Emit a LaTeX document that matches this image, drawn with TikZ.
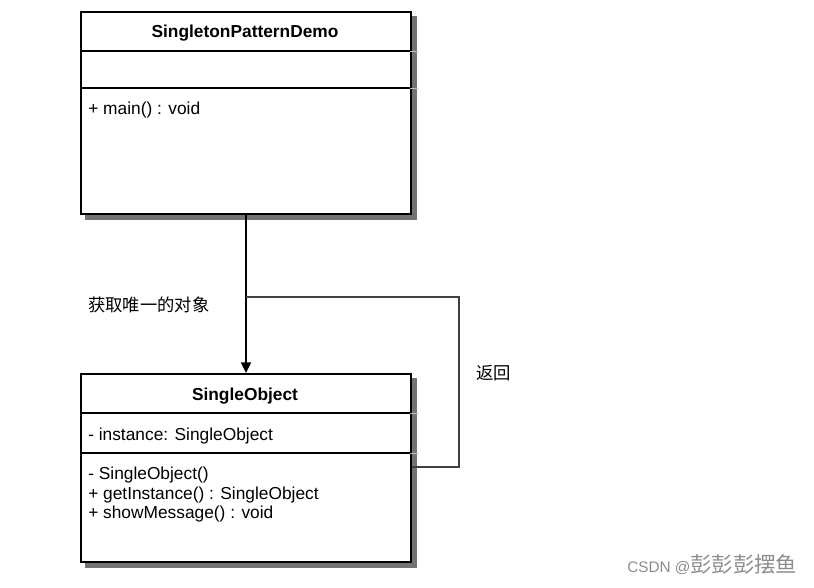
\documentclass[tikz,border=0pt]{standalone}
\usepackage{fontspec}
\setmainfont{Liberation Sans}
\newfontfamily\cjk{Noto Sans CJK SC}
\usetikzlibrary{arrows.meta}
\begin{document}
\begin{tikzpicture}[x=0.75pt,y=-0.75pt,
  umlbox/.style={draw=black, line width=1.5pt, fill=white, inner sep=0pt, anchor=north west},
  boxshadow/.style={fill=black!55, draw=none},
  divider/.style={draw=black, line width=1.5pt},
  stub/.style={draw=black!25, line width=0.6pt},
  txt/.style={anchor=base west, inner sep=0pt, font=\fontsize{13}{15}\selectfont},
  title/.style={anchor=base, inner sep=0pt, font=\fontsize{13}{15}\selectfont\bfseries},
  cjklabel/.style={anchor=base west, inner sep=0pt, font=\fontsize{13}{15}\selectfont\cjk},
  conn/.style={draw=black, line width=1.1pt},
  retline/.style={draw=black!75, line width=0.8pt}
]
\useasboundingbox (0,0) rectangle (814,587);

% top class
\node[umlbox, minimum width=247.5pt, minimum height=151.5pt] (demo) at (80,11) {};
\fill[boxshadow] ([shift={(0,5)}]demo.north east) rectangle ([shift={(5,0)}]demo.south east);
\fill[boxshadow] ([shift={(5,0)}]demo.south west) rectangle ([shift={(5,5)}]demo.south east);
\node[umlbox, minimum width=247.5pt, minimum height=151.5pt] (demo) at (80,11) {};
\draw[stub] (410,51) -- (418,51);
\draw[stub] (410,88) -- (418,88);
\draw[divider] (80,51) -- (410,51);
\draw[divider] (80,88) -- (410,88);
\node[title] (demotitle) at (245,37) {SingletonPatternDemo};
\node[txt] (demomain) at (88,114) {+ main() : void};

% bottom class
\node[umlbox, minimum width=247.5pt, minimum height=141pt] (single) at (80,373) {};
\fill[boxshadow] ([shift={(0,5)}]single.north east) rectangle ([shift={(5,0)}]single.south east);
\fill[boxshadow] ([shift={(5,0)}]single.south west) rectangle ([shift={(5,5)}]single.south east);
\node[umlbox, minimum width=247.5pt, minimum height=141pt] (single) at (80,373) {};
\draw[stub] (410,413) -- (418,413);
\draw[stub] (410,453) -- (418,453);
\draw[divider] (80,413) -- (410,413);
\draw[divider] (80,453) -- (410,453);
\node[title] (singletitle) at (245,400) {SingleObject};
\node[txt] (attr) at (88,440) {- instance: SingleObject};
\node[txt] (m1) at (88,479) {- SingleObject()};
\node[txt] (m2) at (88,499) {+ getInstance() : SingleObject};
\node[txt] (m3) at (88,518) {+ showMessage() : void};

% connectors
\draw[conn, -{Triangle[length=8pt,width=7.5pt]}] (demo.south) -- (single.north);
\coordinate (c1) at (459,467);
\coordinate (c2) at (459,297);
\coordinate (j) at (demo.south |- c2);
\draw[retline] (single.east |- c1) -- (c1) -- (c2) -- (j);

\node[cjklabel] (getlabel) at (88,311) {获取唯一的对象};
\node[cjklabel] (retlabel) at (476,379) {返回};

% watermark
\node[anchor=base west, inner sep=0pt, text=black!45] (wm) at (627,572)
  {{\fontsize{11.5}{13}\selectfont CSDN @}{\cjk\fontsize{16}{18}\selectfont 彭彭彭摆鱼}};
\end{tikzpicture}
\end{document}
